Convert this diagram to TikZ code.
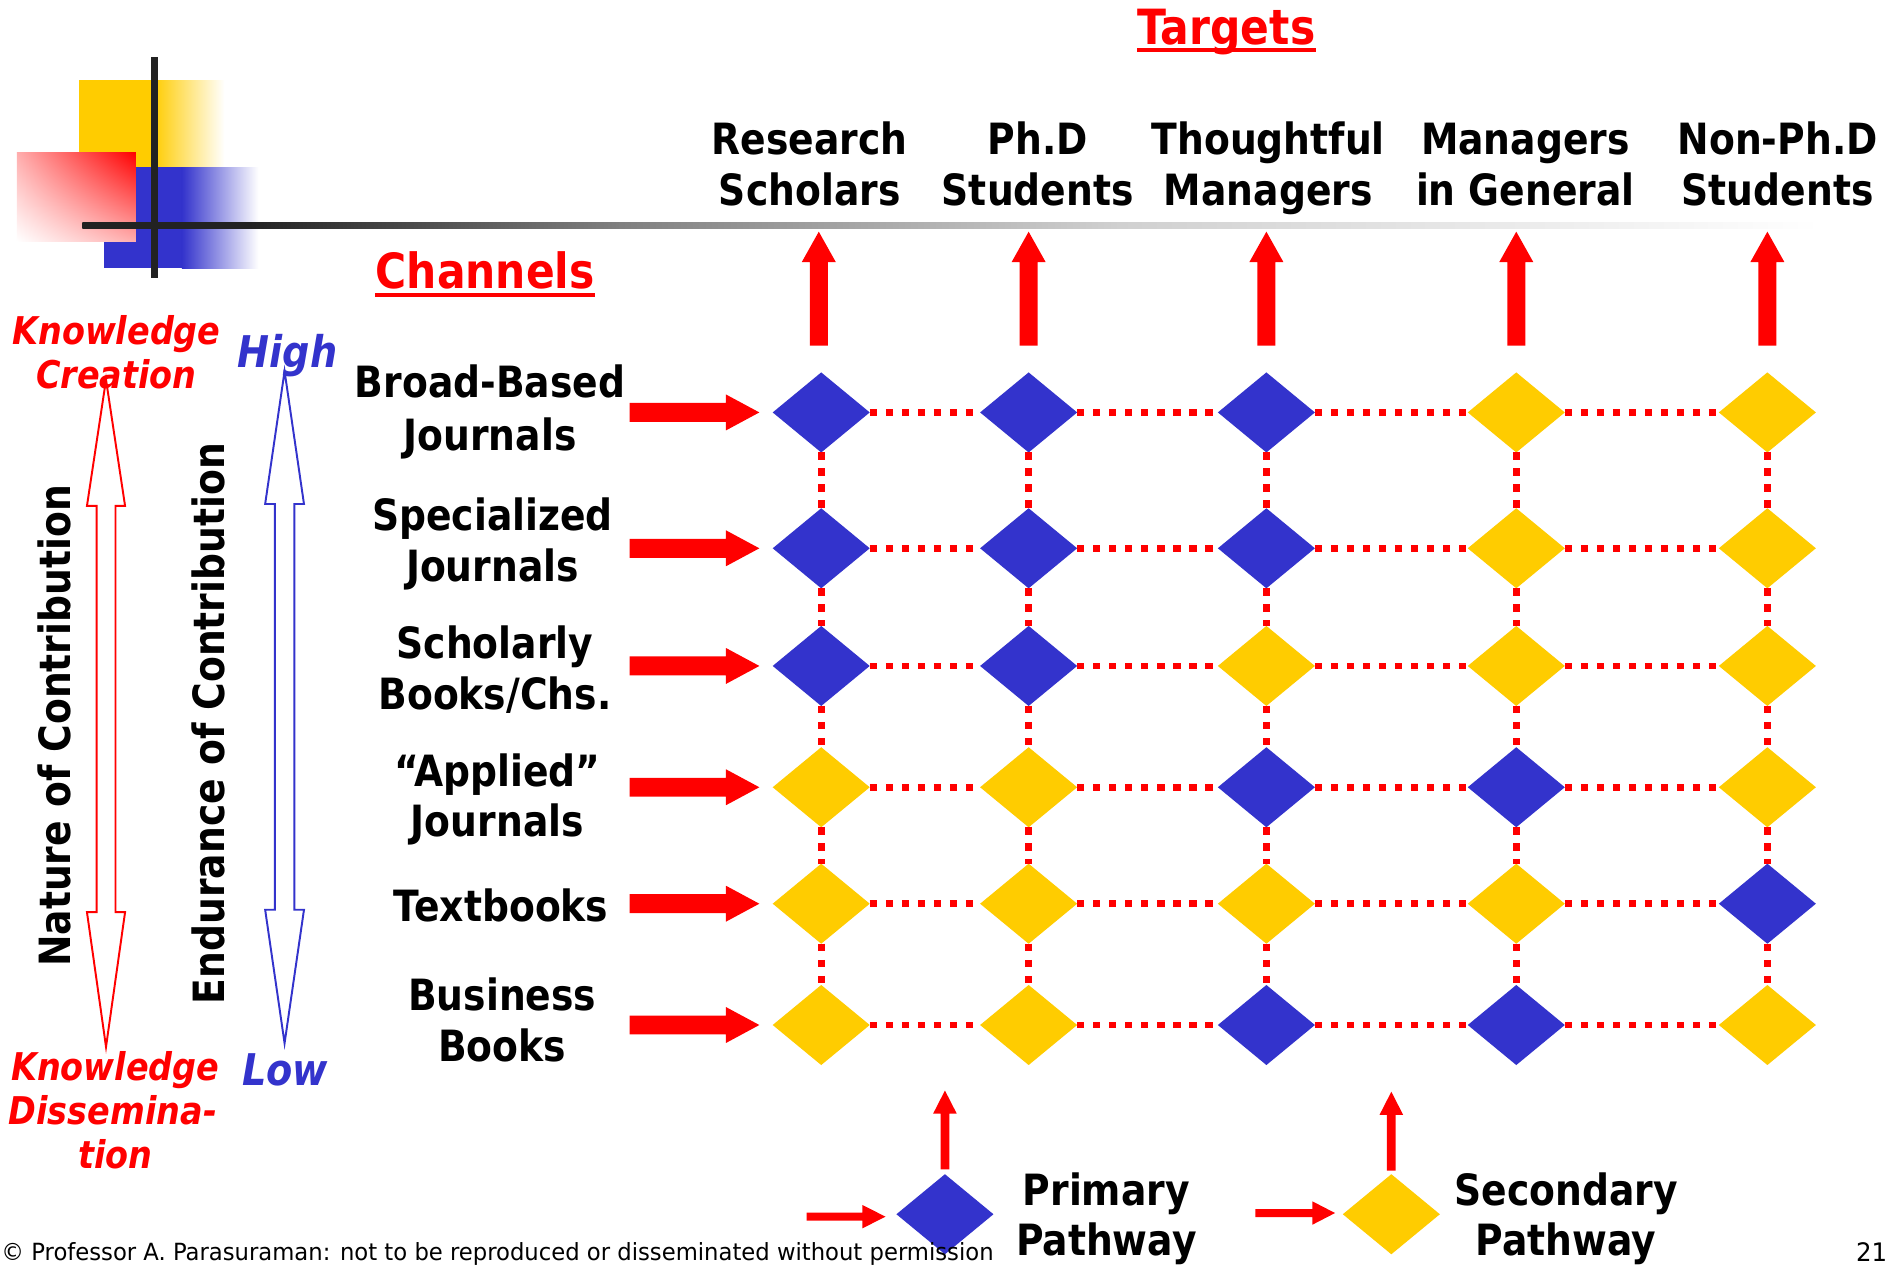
\documentclass[tikz,border=0pt]{standalone}
\usepackage{fontspec}
\usetikzlibrary{shapes.geometric,shadings}
\newfontfamily\labfont{DejaVu Sans}[FakeStretch=0.875]
\newfontfamily\footfont{DejaVu Sans}[FakeStretch=0.96]
\definecolor{pathred}{HTML}{FF0000}
\definecolor{primblue}{HTML}{3333CC}
\definecolor{secyellow}{HTML}{FFCC00}
\definecolor{ruledark}{HTML}{222222}
\definecolor{rulemid}{HTML}{808080}
\definecolor{rulelight}{HTML}{D0D0D0}
% title rule: dark at the logo, fading out to the right
\pgfdeclarehorizontalshading{rulefade}{100bp}{color(0bp)=(ruledark); color(29.8bp)=(ruledark); color(40.5bp)=(rulemid); color(54.85bp)=(rulelight); color(75bp)=(white); color(100bp)=(white)}
% solid block arrows
\newcommand\upblock[6]{% x, tip y, head base y, tail y, head half width, shaft half width
  \fill[pathred] (#1,#2) -- ({#1+#5},#3) -- ({#1+#6},#3) -- ({#1+#6},#4) -- ({#1-#6},#4) -- ({#1-#6},#3) -- ({#1-#5},#3) -- cycle;}
\newcommand\rightblock[6]{% y, tip x, head base x, tail x, head half height, shaft half height
  \fill[pathred] (#2,#1) -- (#3,{#1-#5}) -- (#3,{#1-#6}) -- (#4,{#1-#6}) -- (#4,{#1+#6}) -- (#3,{#1+#6}) -- (#3,{#1+#5}) -- cycle;}
% hollow double-headed arrows
\newcommand\dblarrow[8]{% colour, x, top tip, top head base, bottom head base, bottom tip, head half, shaft half
  \draw[#1, line width=1.6pt, fill=white, line join=miter] (#2,#3) -- ({#2+#7},#4) -- ({#2+#8},#4) -- ({#2+#8},#5) -- ({#2+#7},#5) -- (#2,#6) -- ({#2-#7},#5) -- ({#2-#8},#5) -- ({#2-#8},#4) -- ({#2-#7},#4) -- cycle;}
\begin{document}
\begin{tikzpicture}[x=1pt,y=-1pt,
  lab/.style={font=\labfont\bfseries\fontsize{35.5}{43}\selectfont, inner sep=0pt, anchor=base},
  ttl/.style={font=\labfont\bfseries\fontsize{40}{48}\selectfont, text=pathred, inner sep=0pt, anchor=base},
  kn/.style={font=\labfont\bfseries\itshape\fontsize{31.5}{36}\selectfont, text=pathred, inner sep=0pt, anchor=base},
  hl/.style={font=\labfont\bfseries\itshape\fontsize{36}{40}\selectfont, text=primblue, inner sep=0pt, anchor=base},
  prim/.style={diamond, fill=primblue, minimum width=80pt, minimum height=66pt, inner sep=0pt, outer sep=0pt},
  sec/.style={prim, fill=secyellow},
  dots/.style={pathred, line width=5.5pt, dash pattern=on 6pt off 7.2pt},
]
\useasboundingbox[fill=white] (0,0) rectangle (1568,1045);

% logo
\fill[secyellow] (65,66) rectangle (126,138);
\shade[left color=secyellow, right color=white] (126,66) rectangle (185,138);
\fill[primblue] (86,138) rectangle (150,221);
\shade[left color=primblue, right color=white] (150,138) rectangle (213,221);
\shade[upper right=pathred, lower left=white, upper left=pathred!32, lower right=pathred!32] (14,126) rectangle (112,199);
\fill[ruledark] (124.5,47) rectangle (130.5,229);
\shade[shading=rulefade] (68,183.25) rectangle (1500,188.75);

% headings
\node[ttl] (tg) at (1011,37) {Targets};
\draw[pathred, line width=3pt] ([yshift=-4pt]tg.base west) -- ([yshift=-4pt]tg.base east);
\node[ttl] (chn) at (400,238) {Channels};
\draw[pathred, line width=3pt] ([yshift=-5pt]chn.base west) -- ([yshift=-5pt]chn.base east);

% targets
\node[lab] (t1a) at (667.5,127) {Research};
\node[lab] (t1b) at (667.5,169) {Scholars};
\node[lab] (t2a) at (855.5,127) {Ph.D};
\node[lab] (t2b) at (855.5,169) {Students};
\node[lab] (t3a) at (1045.5,127) {Thoughtful};
\node[lab] (t3b) at (1045.5,169) {Managers};
\node[lab] (t4a) at (1257.5,127) {Managers};
\node[lab] (t4b) at (1257.5,169) {in General};
\node[lab] (t5a) at (1465.5,127) {Non-Ph.D};
\node[lab] (t5b) at (1465.5,169) {Students};

% channels
\node[lab] (c1a) at (404,328) {Broad-Based};
\node[lab] (c1b) at (404,371) {Journals};
\node[lab] (c2a) at (406,437) {Specialized};
\node[lab] (c2b) at (406,479) {Journals};
\node[lab] (c3a) at (408,543) {Scholarly};
\node[lab] (c3b) at (408,585) {Books/Chs.};
\node[lab] (c4a) at (410,648) {“Applied”};
\node[lab] (c4b) at (410,690) {Journals};
\node[lab] (c5a) at (413,760) {Textbooks};
\node[lab] (c6a) at (414,833) {Business};
\node[lab] (c6b) at (414,875) {Books};

% left-hand scales
\dblarrow{pathred}{87.4}{313}{417}{752}{863}{15.7}{7.8}
\dblarrow{primblue}{234.6}{306}{415.5}{750}{860}{16}{8}
\node[kn] (kc1) at (96,284) {Knowledge};
\node[kn] (kc2) at (96,320) {Creation};
\node[kn] (kd1) at (95,891) {Knowledge};
\node[kn] (kd2) at (93,927) {Dissemina-};
\node[kn] (kd3) at (95,963) {tion};
\node[hl] (hi) at (237,303) {High};
\node[hl] (lo) at (235,895) {Low};
\node[lab, rotate=90] (nat) at (58,598.5) {Nature of Contribution};
\node[lab, rotate=90] (endu) at (185,596.5) {Endurance of Contribution};

% pathway grid
\node[prim] (d11) at (677,340) {};
\node[prim] (d12) at (848,340) {};
\node[prim] (d13) at (1044,340) {};
\node[sec]  (d14) at (1250,340) {};
\node[sec]  (d15) at (1457,340) {};
\node[prim] (d21) at (677,452) {};
\node[prim] (d22) at (848,452) {};
\node[prim] (d23) at (1044,452) {};
\node[sec]  (d24) at (1250,452) {};
\node[sec]  (d25) at (1457,452) {};
\node[prim] (d31) at (677,549) {};
\node[prim] (d32) at (848,549) {};
\node[sec]  (d33) at (1044,549) {};
\node[sec]  (d34) at (1250,549) {};
\node[sec]  (d35) at (1457,549) {};
\node[sec]  (d41) at (677,649) {};
\node[sec]  (d42) at (848,649) {};
\node[prim] (d43) at (1044,649) {};
\node[prim] (d44) at (1250,649) {};
\node[sec]  (d45) at (1457,649) {};
\node[sec]  (d51) at (677,745) {};
\node[sec]  (d52) at (848,745) {};
\node[sec]  (d53) at (1044,745) {};
\node[sec]  (d54) at (1250,745) {};
\node[prim] (d55) at (1457,745) {};
\node[sec]  (d61) at (677,845) {};
\node[sec]  (d62) at (848,845) {};
\node[prim] (d63) at (1044,845) {};
\node[prim] (d64) at (1250,845) {};
\node[sec]  (d65) at (1457,845) {};

\foreach \r in {1,...,6}{
  \foreach \c [evaluate=\c as \n using int(\c+1)] in {1,...,4}{
    \draw[dots] (d\r\c.east) -- (d\r\n.west);}}
\foreach \r [evaluate=\r as \n using int(\r+1)] in {1,...,5}{
  \foreach \c in {1,...,5}{
    \draw[dots] (d\r\c.south) -- (d\n\c.north);}}

% channel arrows into the first column
\foreach \y in {340,452,549,649,745,845}{
  \rightblock{\y}{626}{598.5}{519}{14.8}{7.8}}
% target arrows above the first row
\foreach \x in {675,848,1044,1250,1457}{
  \upblock{\x}{191}{216}{285}{14}{7.4}}

% legend
\node[prim] (lp) at (779,1001) {};
\upblock{779}{899}{918}{964}{9.7}{3.6}
\rightblock{1003}{730}{711}{665}{9.6}{3.3}
\node[lab] (lp1) at (912,994) {Primary};
\node[lab] (lp2) at (912,1035) {Pathway};
\node[sec] (ls) at (1147,1001) {};
\upblock{1147}{900}{919}{965}{9.7}{3.6}
\rightblock{1000}{1100.6}{1082}{1035}{9.6}{3.3}
\node[lab] (ls1) at (1291,994) {Secondary};
\node[lab] (ls2) at (1291,1035) {Pathway};

% footer
\node[font=\footfont\fontsize{19.5}{24}\selectfont, anchor=base west, inner sep=0pt] (foot) at (1,1039.5) {© Professor A. Parasuraman: not to be reproduced or disseminated without permission};
\node[font=\footfont\fontsize{21}{24}\selectfont, anchor=base east, inner sep=0pt] (pg) at (1556,1040) {21};
\end{tikzpicture}
\end{document}
